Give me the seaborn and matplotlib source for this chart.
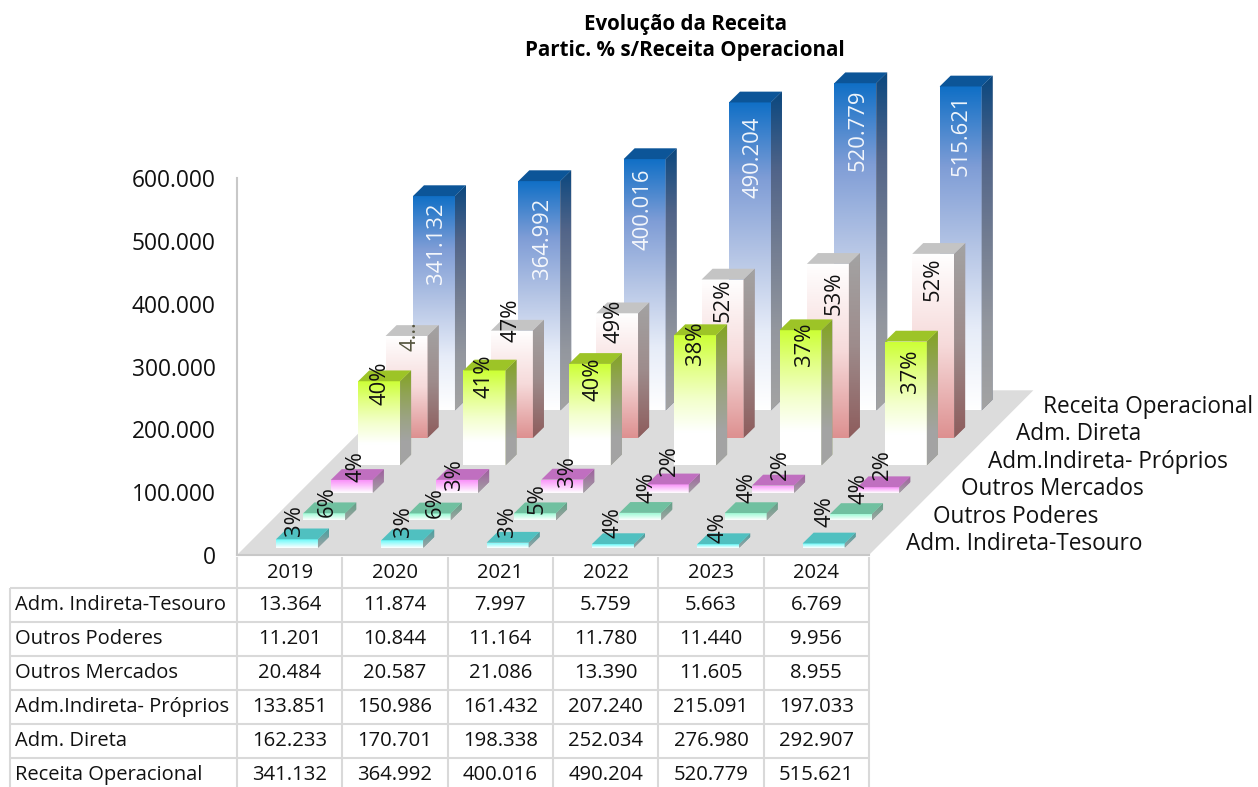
import numpy as np
import pandas as pd
import seaborn as sns
import matplotlib
matplotlib.use("Agg")
import matplotlib.pyplot as plt
from matplotlib.colors import ListedColormap, to_rgb
from matplotlib.patches import Polygon
from matplotlib.ticker import FuncFormatter

sns.set_theme(style="white")
plt.rcParams["font.family"] = ["Open Sans", "DejaVu Sans"]

# ---- data -------------------------------------------------------------
years = ["2019", "2020", "2021", "2022", "2023", "2024"]
series_names = ["Adm. Indireta-Tesouro", "Outros Poderes", "Outros Mercados",
                "Adm.Indireta- Próprios", "Adm. Direta", "Receita Operacional"]

tesouro = [13364, 11874, 7997, 5759, 5663, 6769]
poderes = [11201, 10844, 11164, 11780, 11440, 9956]
mercados = [20484, 20587, 21086, 13390, 11605, 8955]
proprios = [133851, 150986, 161432, 207240, 215091, 197033]
direta = [162233, 170701, 198338, 252034, 276980, 292907]
receita = [341132, 364992, 400016, 490204, 520779, 515621]
series_values = [tesouro, poderes, mercados, proprios, direta, receita]

labels_tesouro = ["3%", "3%", "3%", "4%", "4%", "4%"]
labels_poderes = ["6%", "6%", "5%", "4%", "4%", "4%"]
labels_mercados = ["4%", "3%", "3%", "2%", "2%", "2%"]
labels_proprios = ["40%", "41%", "40%", "38%", "37%", "37%"]
labels_direta = ["4…", "47%", "49%", "52%", "53%", "52%"]
labels_receita = ["341.132", "364.992", "400.016", "490.204", "520.779", "515.621"]
series_labels = [labels_tesouro, labels_poderes, labels_mercados,
                 labels_proprios, labels_direta, labels_receita]

# ---- styling ----------------------------------------------------------
gradients = [
    ["#68F9F9", "#FFFFFF"],
    ["#91F9D0", "#FFFFFF"],
    ["#F990F9", "#FFFFFF"],
    ["#CCFF33", "#E2FF85", "#F3FFCC", "#FFFFFF", "#FFFFFF"],
    ["#FFFFFF", "#F6DADA", "#DD9090"],
    ["#0F6FC6", "#7F9DD6", "#B5C5E5", "#E6ECF8", "#FFFFFF"],
]
# label centre relative to the top centre of each bar's front face, in pixels
label_dx = [[-2, 1, 0, 0, 0, 1],
            [3, 6, 2, 7, 1, 8],
            [4, -3, 5, 2, 7, 4],
            [1, 0, 3, 0, 4, 5],
            [3, -1, -3, 0, 6, 0],
            [3, 3, -2, 3, 3, 0]]
label_dy = [[-19, -19, -21, -22, -17, -32],
            [-12, -11, -15, -25, -25, -25],
            [-13, -5, -8, -24, -21, -23],
            [2, 6, 15, 8, 14, 30],
            [0, -10, 8, 21, 29, 25],
            [47, 57, 50, 55, 47, 49]]

W, H = 1258, 787
PLOT_L, PLOT_R, PLOT_T, PLOT_B = 237, 869, 178, 555
TBL_T, TBL_B = 588, 792
TEXT = "#111111"
LINE = "#D9D9D9"

fig = plt.figure(figsize=(W / 100, H / 100), dpi=100, facecolor="white")
ax = fig.add_axes([PLOT_L / W, 1 - PLOT_B / H, (PLOT_R - PLOT_L) / W, (PLOT_B - PLOT_T) / H])
ax.patch.set_alpha(0)

YMAX = 600000
px_x = 6 / (PLOT_R - PLOT_L)          # category units per pixel
px_y = YMAX / (PLOT_B - PLOT_T)       # value units per pixel

# oblique projection of the depth axis
step_x, step_y = 27.4 * px_x, 27.45 * px_y
first_x, first_y = 7.3 * px_x, 7.3 * px_y
bar_dx, bar_dy = 11.0 * px_x, 10.8 * px_y
bar_w = 42.0 * px_x


def shade_face(verts, stops, factor=1.0, zorder=1):
    """Fill a polygon with a vertical gradient built from the colour stops."""
    rgb = np.array(sns.blend_palette(stops, n_colors=256)) * factor
    xs, ys = zip(*verts)
    poly = Polygon(verts, closed=True, facecolor=tuple(rgb[128]), linewidth=0,
                   clip_on=False, zorder=zorder)
    ax.add_patch(poly)
    im = ax.imshow(rgb[:, None, :], extent=(min(xs), max(xs), min(ys), max(ys)),
                   origin="upper", aspect="auto", interpolation="bilinear", zorder=zorder)
    im.set_clip_path(poly)
    im.set_clip_box(fig.bbox)


# floor of the chart
floor = Polygon([(0, 0), (6, 0), (6 + 6 * step_x, 6 * step_y), (6 * step_x, 6 * step_y)],
                closed=True, facecolor="#DCDCDC", linewidth=0, clip_on=False, zorder=1)
ax.add_patch(floor)

# bars from the back row to the front row
for s in range(5, -1, -1):
    z = 10 + (5 - s) * 2
    base = first_y + s * step_y
    centers = np.arange(6) + 0.5 + first_x + s * step_x
    frame = pd.DataFrame({"pos": centers, "value": series_values[s]})
    n_before = len(ax.patches)
    sns.barplot(data=frame, x="pos", y="value", native_scale=True, width=bar_w,
                bottom=base, errorbar=None, color="white", linewidth=0,
                clip_on=False, zorder=z, ax=ax, legend=False)
    top_rgb = np.array(to_rgb(gradients[s][0])) * 0.77
    for k, rect in enumerate(ax.patches[n_before:]):
        x0, y0 = rect.get_x(), rect.get_y()
        w, h = rect.get_width(), rect.get_height()
        shade_face([(x0, y0), (x0 + w, y0), (x0 + w, y0 + h), (x0, y0 + h)],
                   gradients[s], 1.0, z)
        shade_face([(x0 + w, y0), (x0 + w + bar_dx, y0 + bar_dy),
                    (x0 + w + bar_dx, y0 + h + bar_dy), (x0 + w, y0 + h)],
                   gradients[s], 0.64, z)
        ax.add_patch(Polygon([(x0, y0 + h), (x0 + w, y0 + h),
                              (x0 + w + bar_dx, y0 + h + bar_dy), (x0 + bar_dx, y0 + h + bar_dy)],
                             closed=True, facecolor=tuple(top_rgb), linewidth=0,
                             clip_on=False, zorder=z))
        label = series_labels[s][k]
        colour = "white" if s == 5 else ("#55553F" if label.endswith("…") else TEXT)
        ax.annotate(label, xy=(x0 + w / 2, y0 + h),
                    xytext=(label_dx[s][k], -label_dy[s][k]), textcoords="offset pixels",
                    rotation=90, ha="center", va="center", rotation_mode="default",
                    fontsize=15.8, color=colour, alpha=0.92 if s == 5 else 1.0,
                    annotation_clip=False, zorder=40)

# series names along the depth axis
for s, name in enumerate(series_names):
    ax.annotate(name, xy=(6 + s * step_x, s * step_y), xytext=(37, 11), textcoords="offset pixels",
                ha="left", va="center", fontsize=16.3, color=TEXT, annotation_clip=False)

# axes, ticks and year labels
ax.set_xlim(0, 6)
ax.set_ylim(0, YMAX)
ax.set_xlabel("")
ax.set_ylabel("")
ax.set_yticks(np.arange(0, YMAX + 1, 100000))
ax.yaxis.set_major_formatter(FuncFormatter(lambda v, _: f"{int(v):,}".replace(",", ".") if v else "0"))
ax.set_xticks(np.arange(6) + 0.5)
ax.set_xticklabels(years)
ax.tick_params(axis="y", length=0, pad=15.5, labelsize=16.4, labelcolor=TEXT)
ax.tick_params(axis="x", length=0, pad=6, labelsize=14.5, labelcolor=TEXT)
sns.despine(ax=ax, top=True, right=True)
ax.spines["left"].set_color("#C8C8C8")
ax.spines["left"].set_linewidth(1.5)
ax.spines["left"].set_zorder(2)
ax.spines["bottom"].set_color("#C8C8C8")
ax.spines["bottom"].set_linewidth(1.5)
ax.spines["bottom"].set_zorder(2)

# data table beneath the chart
tbl = fig.add_axes([PLOT_L / W, 1 - TBL_B / H, (PLOT_R - PLOT_L) / W, (TBL_B - TBL_T) / H])
table_values = np.array(series_values)
table_text = [[f"{v:,}".replace(",", ".") for v in row] for row in series_values]
sns.heatmap(table_values * 0, ax=tbl, cmap=ListedColormap(["white"]), cbar=False,
            annot=np.array(table_text), fmt="", xticklabels=False, yticklabels=False,
            annot_kws={"fontsize": 14.6, "color": TEXT})
row_h = (TBL_B - TBL_T) / 6
head_top = -(TBL_T - 557) / row_h
left_edge = -(PLOT_L - 10) * px_x
grid = dict(colors=LINE, linewidth=1.5, clip_on=False, zorder=5)
tbl.hlines(np.arange(6), left_edge, 6, **grid)
tbl.vlines(np.arange(7), head_top, 6.2, **grid)
tbl.vlines(left_edge, 0, 6.2, **grid)
for r, name in enumerate(series_names):
    tbl.text(left_edge + 5 * px_x, r + 0.5, name, ha="left", va="center",
             fontsize=14.5, color=TEXT, clip_on=False)

fig.text(685 / W, 1 - 37.5 / H, "Evolução da Receita\nPartic. % s/Receita Operacional",
         ha="center", va="center", fontsize=14.8, fontweight="bold", color="black", linespacing=1.37)

fig.savefig("out.png", dpi=100, facecolor="white")
